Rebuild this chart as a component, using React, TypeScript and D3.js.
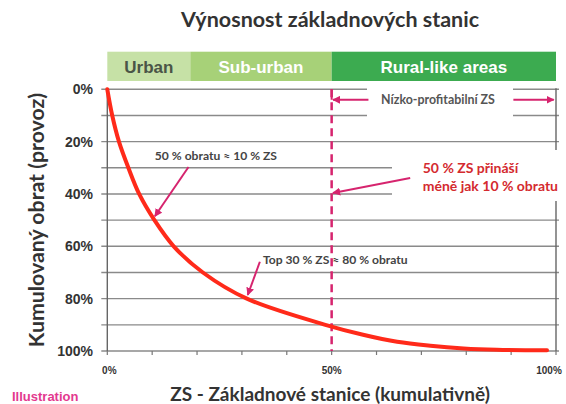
import { useEffect } from "react";
import * as d3 from "d3";

// cumulative share of base stations (%) vs cumulative revenue (%)
const stationShare = [0, 1.1, 2.6, 4.7, 7.1, 10.5, 14.8, 21.3, 31.1, 48.6, 57, 64.6, 72, 79.4, 86.8, 98];
const revenueShare = [0, 10, 20, 30, 40, 50, 60, 70, 80, 90, 93.8, 96.5, 98, 99, 99.5, 99.7];

const zoneNames = ["Urban", "Sub-urban", "Rural-like areas"];
const zoneBounds = [0, 18.5, 50, 100];
const zoneColors = ["#c6e1a6", "#a7d178", "#3cab50"];
const zoneText = ["#4a5547", "#ffffff", "#ffffff"];

const yTicks = [0, 20, 40, 60, 80, 100];
const gridTicks = d3.range(0, 101, 10);
const xLabels = [0, 50, 100];

const W = 566;
const H = 404;
const MAG = "#d6246e";
const LATO = "Lato, 'Open Sans', sans-serif";
const ARIAL = "'Liberation Sans', Arial, sans-serif";

const App = () => {
  useEffect(() => {
    document.body.style.margin = "0";
  }, []);

  const x = d3.scaleLinear().domain([0, 100]).range([107.3, 556]);
  const y = d3.scaleLinear().domain([0, 100]).range([89.3, 351]);

  const line = d3
    .line<number>()
    .x((_, i) => x(stationShare[i]))
    .y((d) => y(d))
    .curve(d3.curveCatmullRom.alpha(0.5));

  const arrow = (x1: number, y1: number, x2: number, y2: number, key: string) => (
    <line
      key={key}
      x1={x(x1)}
      y1={y(y1)}
      x2={x(x2)}
      y2={y(y2)}
      stroke={MAG}
      strokeWidth={2}
      markerEnd="url(#head)"
    />
  );

  return (
    <svg width={W} height={H} style={{ display: "block", background: "#fff" }}>
      <defs>
        <marker id="head" viewBox="0 0 10 10" refX="9" refY="5" markerWidth="4" markerHeight="4" orient="auto">
          <path d="M0,0 L10,5 L0,10 z" fill={MAG} />
        </marker>
      </defs>

      {/* title */}
      <text x={330} y={26.7} textAnchor="middle" fontFamily={LATO} fontWeight="bold" fontSize={21.5} fill="#333">
        Výnosnost základnových stanic
      </text>

      {/* zone band */}
      {zoneNames.map((z, i) => (
        <g key={z}>
          <rect
            x={x(zoneBounds[i])}
            y={51.7}
            width={x(zoneBounds[i + 1]) - x(zoneBounds[i])}
            height={29.3}
            fill={zoneColors[i]}
          />
          <text
            x={(x(zoneBounds[i]) + x(zoneBounds[i + 1])) / 2}
            y={72.7}
            textAnchor="middle"
            fontFamily={ARIAL}
            fontWeight="bold"
            fontSize={17}
            fill={zoneText[i]}
          >
            {z}
          </text>
        </g>
      ))}

      {/* gridlines */}
      {gridTicks.map((t) => (
        <line key={t} x1={x(0) - 6} x2={x(100) + 3} y1={y(t)} y2={y(t)} stroke="#8a8a8a" strokeWidth={1.4} />
      ))}
      <line x1={x(0)} x2={x(0)} y1={y(0)} y2={y(100)} stroke="#666" strokeWidth={1.4} />
      <line x1={x(100)} x2={x(100)} y1={y(0) - 1} y2={y(100)} stroke="#666" strokeWidth={1.4} />
      {gridTicks.map((t) => (
        <line key={"xt" + t} x1={x(t)} x2={x(t)} y1={y(100)} y2={y(100) + 4} stroke="#777" strokeWidth={1.2} />
      ))}

      {/* white boxes behind annotations */}
      <rect x={367} y={84} width={146} height={36} fill="#fff" />
      <rect x={392} y={150} width={174} height={51} fill="#fff" />

      {/* 50% dashed divider */}
      <line x1={x(50)} x2={x(50)} y1={y(0)} y2={y(100)} stroke={MAG} strokeWidth={2.5} strokeDasharray="8,5" />

      {/* curve */}
      <path d={line(revenueShare) ?? ""} fill="none" stroke="#ff2a1a" strokeWidth={4} strokeLinecap="round" />

      {/* y tick labels */}
      {yTicks.map((t) => (
        <text key={t} x={93} y={y(t) + 5} textAnchor="end" fontFamily={ARIAL} fontWeight="bold" fontSize={14} fill="#333">
          {t}%
        </text>
      ))}
      {/* x tick labels */}
      {xLabels.map((t, i) => (
        <text
          key={t}
          x={x(t) + [2, 0, -7][i]}
          y={373.5}
          textAnchor="middle"
          fontFamily={ARIAL}
          fontWeight="bold"
          fontSize={10}
          fill="#333"
        >
          {t}%
        </text>
      ))}

      {/* axis titles */}
      <text
        transform={`translate(44,220) rotate(-90)`}
        textAnchor="middle"
        fontFamily={LATO}
        fontWeight="bold"
        fontSize={21.3}
        fill="#333"
      >
        Kumulovaný obrat (provoz)
      </text>
      <text x={330} y={401} textAnchor="middle" fontFamily={LATO} fontWeight="bold" fontSize={19} fill="#333">
        ZS - Základnové stanice (kumulativně)
      </text>
      <text x={12} y={401} fontFamily={ARIAL} fontWeight="bold" fontSize={13} fill="#e3398f">
        Illustration
      </text>

      {/* low-profit bracket */}
      <line x1={x(50)} x2={x(50)} y1={y(0)} y2={y(4)} stroke={MAG} strokeWidth={2} />
      {arrow(58.2, 4, 50.3, 4, "la")}
      {arrow(90.5, 4, 99.5, 4, "ra")}
      <text x={438} y={y(4) + 4.3} textAnchor="middle" fontFamily={LATO} fontWeight="bold" fontSize={12.4} fill="#555">
        Nízko-profitabilní ZS
      </text>

      {/* annotations */}
      <text x={x(10.6)} y={y(25.5) + 4.4} fontFamily={LATO} fontWeight="bold" fontSize={12.1} fill="#444">
        50 % obratu ≈ 10 % ZS
      </text>
      {arrow(18.1, 29.7, 10.6, 48.5, "a1")}
      <text x={x(34.7)} y={y(65.2) + 4.4} fontFamily={LATO} fontWeight="bold" fontSize={12.1} fill="#444">
        Top 30 % ZS ≈ 80 % obratu
      </text>
      {arrow(34, 65.9, 31.3, 78.6, "a2")}
      <text fontFamily={LATO} fontWeight="bold" fontSize={14} fill="#d42a2f">
        <tspan x={x(70.3)} y={y(30) + 5}>50 % ZS přináší</tspan>
        <tspan x={x(70.3)} y={y(37) + 5}>méně jak 10 % obratu</tspan>
      </text>
      {arrow(67.5, 33.9, 50.3, 39.6, "a3")}
    </svg>
  );
};

export default App;
